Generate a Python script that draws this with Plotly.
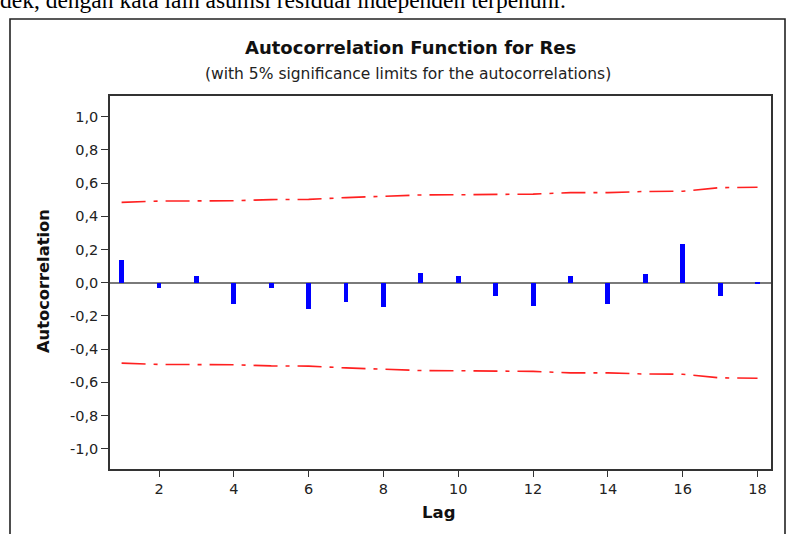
import plotly.graph_objects as go

# ---------------- data ----------------
lags = list(range(1, 19))
acf = [0.135, -0.034, 0.042, -0.128, -0.034, -0.158, -0.118, -0.148, 0.060,
       0.042, -0.080, -0.140, 0.042, -0.128, 0.050, 0.231, -0.080, -0.005]
upper_limit = [0.484, 0.492, 0.493, 0.494, 0.501, 0.502, 0.513, 0.519, 0.529,
               0.530, 0.530, 0.534, 0.543, 0.543, 0.550, 0.551, 0.573, 0.575]
lower_limit = [-0.484, -0.492, -0.493, -0.494, -0.501, -0.502, -0.513, -0.519, -0.529,
               -0.530, -0.530, -0.534, -0.543, -0.543, -0.550, -0.551, -0.573, -0.575]
y_tickvals = [-1.0, -0.8, -0.6, -0.4, -0.2, 0.0, 0.2, 0.4, 0.6, 0.8, 1.0]
y_ticktext = ["-1,0", "-0,8", "-0,6", "-0,4", "-0,2", "0,0", "0,2", "0,4", "0,6", "0,8", "1,0"]
x_tickvals = [2, 4, 6, 8, 10, 12, 14, 16, 18]

title_text = "Autocorrelation Function for Res"
subtitle_text = "(with 5% significance limits for the autocorrelations)"
doc_text = "dek, dengan kata lain asumsi residual independen terpenuhi."

# ---------------- layout geometry ----------------
W, H = 796, 534
L, R, T, B = 110, 771, 96, 469


def px(x):
    return (x - L) / (R - L)


def py(y):
    return (B - y) / (B - T)


FONT = "DejaVu Sans"

fig = go.Figure()
fig.add_trace(go.Bar(x=lags, y=acf, width=0.13, marker=dict(color="#0000FF", line=dict(width=0)),
                     showlegend=False, hoverinfo="skip"))
for lim in (upper_limit, lower_limit):
    fig.add_trace(go.Scatter(x=lags, y=lim, mode="lines",
                             line=dict(color="#FF2020", width=1.6, dash="24px,8px,4px,8px"),
                             showlegend=False, hoverinfo="skip"))

fig.update_layout(
    width=W, height=H,
    margin=dict(l=L, r=W - R, t=T, b=H - B, pad=0),
    paper_bgcolor="white", plot_bgcolor="white",
    font=dict(family=FONT, size=14, color="#222222"),
    bargap=0,
    xaxis=dict(range=[0.69, 18.36], tickvals=x_tickvals, ticks="outside", ticklen=6,
               tickwidth=1.3, tickcolor="#333333", showline=True, linecolor="#333333",
               linewidth=1.6, mirror=True, showgrid=False, zeroline=False,
               tickfont=dict(size=14.5, family=FONT)),
    yaxis=dict(range=[-1.122, 1.125], tickvals=y_tickvals, ticktext=y_ticktext,
               ticks="outside", ticklen=7, tickwidth=1.3, tickcolor="#333333",
               showline=True, linecolor="#333333", linewidth=1.6, mirror=True,
               showgrid=False, zeroline=True, zerolinecolor="#7a7a7a", zerolinewidth=1.6,
               tickfont=dict(size=14.5, family=FONT)),
)

annotations = [
    dict(text="<b>" + title_text + "</b>", x=px(410), y=py(48), xanchor="center", yanchor="middle",
         font=dict(size=18, family=FONT, color="#111111")),
    dict(text=subtitle_text, x=px(408), y=py(74), xanchor="center", yanchor="middle",
         font=dict(size=15.5, family=FONT, color="#222222")),
    dict(text="<b>Autocorrelation</b>", x=px(43), y=py(281), xanchor="center", yanchor="middle",
         textangle=-90, font=dict(size=16.3, family=FONT, color="#111111")),
    dict(text="<b>Lag</b>", x=px(438), y=py(512), xanchor="center", yanchor="middle",
         font=dict(size=16.5, family=FONT, color="#111111")),
    dict(text=doc_text, x=px(-2), y=py(15), xanchor="left", yanchor="bottom",
         font=dict(size=23.5, family="Liberation Serif", color="#000000")),
]
for a in annotations:
    a.update(xref="paper", yref="paper", showarrow=False)
fig.update_layout(annotations=annotations)

fig.add_shape(type="rect", xref="paper", yref="paper",
              x0=px(10), x1=px(785), y0=py(560), y1=py(19),
              line=dict(color="#222222", width=1.6), fillcolor="rgba(0,0,0,0)", layer="below")

fig.write_html("out.html", config={"displayModeBar": False},
               post_script="document.body.style.margin='0';document.body.style.overflow='hidden';")
